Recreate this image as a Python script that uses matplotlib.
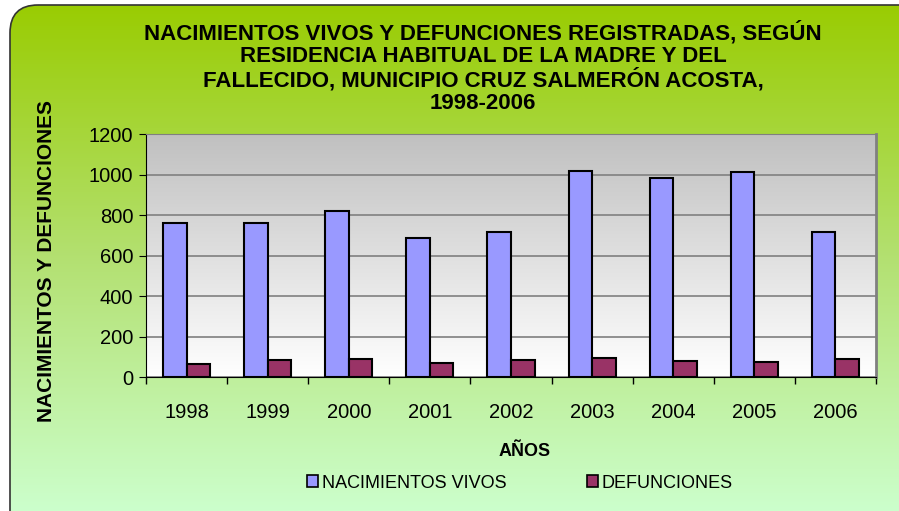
import numpy as np
import matplotlib
matplotlib.use("Agg")
import matplotlib.pyplot as plt
from matplotlib.patches import FancyBboxPatch, Patch
from matplotlib.colors import LinearSegmentedColormap

plt.rcParams['font.family'] = ['Liberation Sans', 'DejaVu Sans']

years = ['1998', '1999', '2000', '2001', '2002', '2003', '2004', '2005', '2006']
nacimientos = [759, 759, 820, 685, 718, 1019, 984, 1011, 714]
defunciones = [64, 86, 91, 69, 86, 95, 81, 76, 91]

title = ("NACIMIENTOS VIVOS Y DEFUNCIONES REGISTRADAS, SEGÚN\n"
         "RESIDENCIA HABITUAL DE LA MADRE Y DEL\n"
         "FALLECIDO, MUNICIPIO CRUZ SALMERÓN ACOSTA,\n"
         "1998-2006")

fig = plt.figure(figsize=(8.99, 5.11), dpi=100)
fig.patch.set_facecolor('white')

# background panel with green gradient and rounded corner
bg = fig.add_axes([0, 0, 1, 1])
bg.set_xlim(0, 899)
bg.set_ylim(511, 0)
bg.axis('off')
green = LinearSegmentedColormap.from_list('g', ['#99cc00', '#b3e070', '#ccffcc'])
grad = np.linspace(0, 1, 256).reshape(-1, 1)
img = bg.imshow(grad, cmap=green, extent=[0, 899, 511, 0], aspect='auto', zorder=0)
box = FancyBboxPatch((10, 5), 920, 540, boxstyle='round,pad=0,rounding_size=28',
                     facecolor='none', edgecolor='#333333', linewidth=1.2, zorder=2)
bg.add_patch(box)
img.set_clip_path(box)

ax = fig.add_axes([146 / 899, 1 - 377 / 511, 730 / 899, 243 / 511])
ax.set_zorder(3)

# gray-to-white plot area gradient
gray = LinearSegmentedColormap.from_list('gr', ['#ffffff', '#c0c0c0'])
ax.imshow(np.linspace(0, 1, 256).reshape(-1, 1), cmap=gray, origin='lower',
          extent=[-0.5, len(years) - 0.5, 0, 1200], aspect='auto', zorder=0)

x = np.arange(len(years))
w = 0.29
ax.bar(x - w / 2, nacimientos, w, color='#9999ff', edgecolor='black', linewidth=1.5, zorder=3)
ax.bar(x + w / 2, defunciones, w, color='#993366', edgecolor='black', linewidth=1.5, zorder=3)

ax.set_xlim(-0.5, len(years) - 0.5)
ax.set_ylim(0, 1200)
ax.set_yticks(range(0, 1201, 200))
ax.yaxis.grid(True, color='#808080', linewidth=1.2, zorder=1)
for gl in ax.get_ygridlines():
    gl.set_zorder(1)

ax.set_xticks(np.arange(-0.5, len(years), 1))
ax.set_xticklabels([])
ax.set_xticks(x, minor=True)
ax.set_xticklabels(years, minor=True)
ax.tick_params(axis='x', which='minor', length=0, pad=19, labelsize=14.5)
ax.tick_params(axis='x', which='major', length=5, direction='out', width=1)
ax.tick_params(axis='y', length=5, direction='out', labelsize=14.5, pad=4)

ax.spines['left'].set_color('black')
ax.spines['bottom'].set_color('black')
ax.spines['top'].set_color('#808080')
ax.spines['right'].set_color('#808080')
ax.spines['right'].set_linewidth(2)

fig.text(483 / 899, 1 - 21 / 511, title, ha='center', va='top', fontsize=16,
         fontweight='bold', linespacing=1.08)
fig.text(47 / 899, 1 - 261 / 511, 'NACIMIENTOS Y DEFUNCIONES', rotation=90,
         ha='center', va='center', fontsize=15, fontweight='bold')
fig.text(525 / 899, 1 - 452 / 511, 'AÑOS', ha='center', va='center',
         fontsize=13, fontweight='bold')

handles = [Patch(facecolor='#9999ff', edgecolor='black', linewidth=1.2),
           Patch(facecolor='#993366', edgecolor='black', linewidth=1.2)]
fig.legend(handles, ['NACIMIENTOS VIVOS', 'DEFUNCIONES'], loc='center',
           bbox_to_anchor=(520 / 899, 1 - 483 / 511), ncol=2, frameon=False,
           fontsize=13, handlelength=0.6, handleheight=0.6, handletextpad=0.2,
           columnspacing=4.5)

fig.savefig('out.png', dpi=100)
